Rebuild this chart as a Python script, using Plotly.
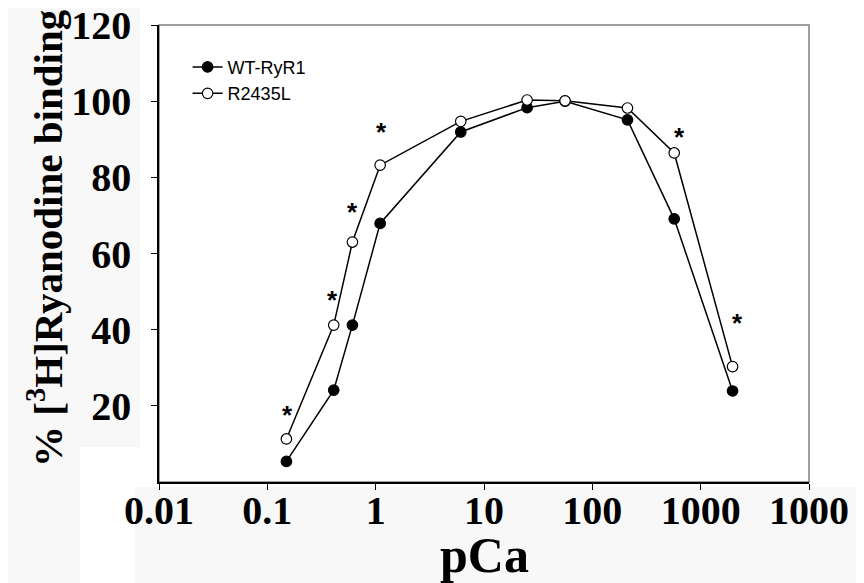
import math
import plotly.graph_objects as go

# Data
pca = [0.15, 0.41, 0.61, 1.1, 6.1, 25, 56, 211, 570, 1970]
wt_ryr1 = [5.4, 24.1, 41.2, 67.9, 91.9, 98.3, 100.0, 95.1, 69.1, 23.9]
r2435l = [11.3, 41.2, 63.0, 83.2, 94.7, 100.3, 100.1, 98.2, 86.4, 30.3]

# significance markers (*)
star_x = [0.153, 0.40, 0.61, 1.12, 634, 2208]
star_y = [18.5, 48.5, 71.6, 92.6, 91.3, 42.6]

x_tickvals = [0.01, 0.1, 1, 10, 100, 1000, 10000]
x_ticktext = ["0.01", "0.1", "1", "10", "100", "1000", "1000"]
y_tickvals = [20, 40, 60, 80, 100, 120]

serif = "Liberation Serif"
sans = "Liberation Sans"

# plot-area geometry in page pixels (used to place paper-referenced decorations)
PL, PR, PT, PB = 159, 809, 25, 482


def px_x(p):
    return (p - PL) / (PR - PL)


def px_y(p):
    return (PB - p) / (PB - PT)


fig = go.Figure()
fig.add_trace(go.Scatter(
    x=pca, y=wt_ryr1, mode="lines+markers", name="WT-RyR1",
    line=dict(color="black", width=1.5),
    marker=dict(symbol="circle", size=10.5, color="black",
                line=dict(color="black", width=1.2)),
))
fig.add_trace(go.Scatter(
    x=pca, y=r2435l, mode="lines+markers", name="R2435L",
    line=dict(color="black", width=1.5),
    marker=dict(symbol="circle", size=10.5, color="white",
                line=dict(color="black", width=1.2)),
))

for sx, sy in zip(star_x, star_y):
    fig.add_annotation(x=math.log10(sx), y=sy, xref="x", yref="y", text="*",
                       showarrow=False, yanchor="middle", xanchor="center",
                       yshift=-3,
                       font=dict(family=sans, size=26, color="black", weight="bold"))

# faint off-white scan patches seen in the background
for x0, x1, y0, y1 in [(0, 80, 0, 583), (80, 140, 0, 447), (135, 864, 487, 583)]:
    fig.add_shape(type="rect", xref="paper", yref="paper",
                  x0=px_x(x0), x1=px_x(x1), y0=px_y(y1), y1=px_y(y0),
                  line=dict(width=0), fillcolor="#f8f8f8", layer="below")

# axis titles
fig.add_annotation(x=0.5, y=px_y(555), xref="paper", yref="paper", text="pCa",
                   showarrow=False, xanchor="center", yanchor="middle",
                   font=dict(family=serif, size=50, color="black", weight="bold"))
fig.add_annotation(x=px_x(45), y=px_y(238), xref="paper", yref="paper",
                   text="% [<sup>3</sup>H]Ryanodine binding", textangle=-90,
                   showarrow=False, xanchor="center", yanchor="middle",
                   font=dict(family=serif, size=41, color="black", weight="bold"))

# frame (top/right in grey)
fig.add_shape(type="rect", xref="x domain", yref="y domain", x0=0, x1=1, y0=0, y1=1,
              line=dict(color="#808080", width=1.5), layer="below")

fig.update_layout(
    width=856, height=575,
    margin=dict(l=151, r=55, t=17, b=101),
    paper_bgcolor="white", plot_bgcolor="white",
    showlegend=True,
    legend=dict(x=0.044, y=0.948, xanchor="left", yanchor="top",
                font=dict(family=sans, size=18, color="black"),
                bgcolor="rgba(0,0,0,0)", itemwidth=30),
    xaxis=dict(type="log", range=[-2, 4], tickvals=x_tickvals, ticktext=x_ticktext,
               showline=True, linecolor="black", linewidth=1.5,
               ticks="outside", ticklen=6, tickcolor="black", tickwidth=1,
               showgrid=False, zeroline=False, automargin=False,
               ticklabelstandoff=-14, ticklabeloverflow="allow",
               tickfont=dict(family=serif, size=40, color="black", weight="bold")),
    yaxis=dict(range=[0, 120], tickvals=y_tickvals,
               showline=True, linecolor="black", linewidth=1.5,
               ticks="outside", ticklen=6, tickcolor="black", tickwidth=1,
               showgrid=False, zeroline=False, ticklabelstandoff=12, automargin=False,
               ticklabeloverflow="allow",
               tickfont=dict(family=serif, size=40, color="black", weight="bold")),
)

fig.write_html("out.html")
